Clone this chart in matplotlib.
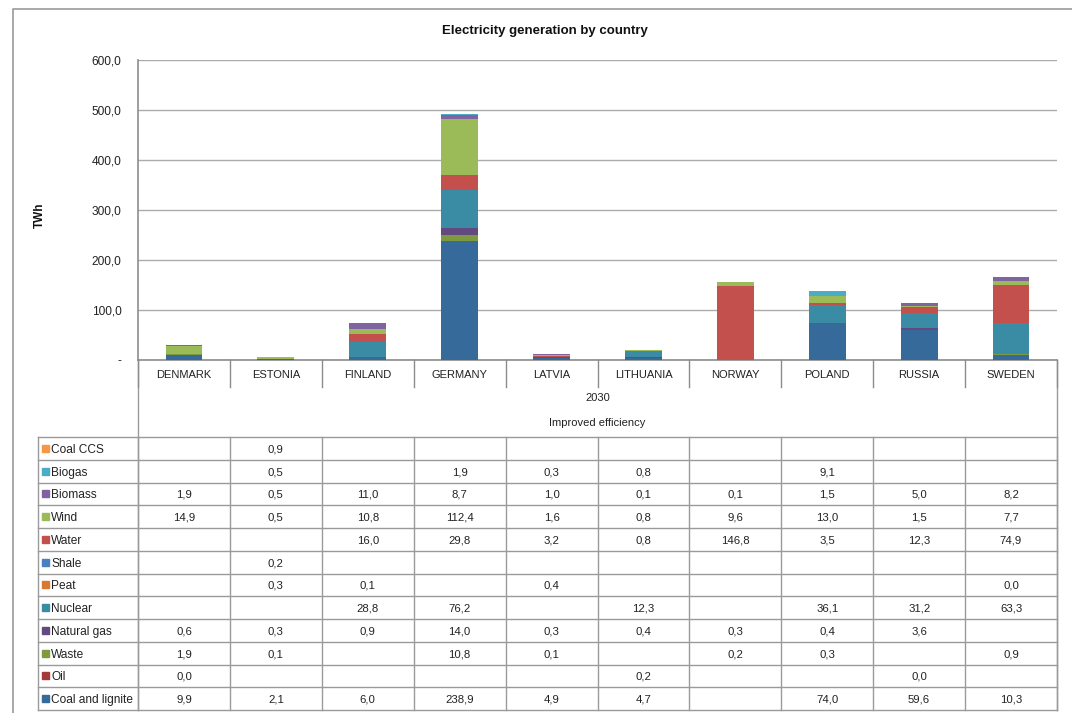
import numpy as np
import matplotlib
matplotlib.use('Agg')
import matplotlib.pyplot as plt
from matplotlib.patches import Rectangle
import matplotlib.transforms as mtransforms

plt.rcParams['font.family'] = ['Liberation Sans', 'DejaVu Sans']

countries = ['DENMARK', 'ESTONIA', 'FINLAND', 'GERMANY', 'LATVIA',
             'LITHUANIA', 'NORWAY', 'POLAND', 'RUSSIA', 'SWEDEN']

# table order (top row first); bars are stacked in the reverse order
sources = ['Coal CCS', 'Biogas', 'Biomass', 'Wind', 'Water', 'Shale', 'Peat',
           'Nuclear', 'Natural gas', 'Waste', 'Oil', 'Coal and lignite']

coal_ccs = [None, 0.9, None, None, None, None, None, None, None, None]
biogas = [None, 0.5, None, 1.9, 0.3, 0.8, None, 9.1, None, None]
biomass = [1.9, 0.5, 11.0, 8.7, 1.0, 0.1, 0.1, 1.5, 5.0, 8.2]
wind = [14.9, 0.5, 10.8, 112.4, 1.6, 0.8, 9.6, 13.0, 1.5, 7.7]
water = [None, None, 16.0, 29.8, 3.2, 0.8, 146.8, 3.5, 12.3, 74.9]
shale = [None, 0.2, None, None, None, None, None, None, None, None]
peat = [None, 0.3, 0.1, None, 0.4, None, None, None, None, 0.0]
nuclear = [None, None, 28.8, 76.2, None, 12.3, None, 36.1, 31.2, 63.3]
natural_gas = [0.6, 0.3, 0.9, 14.0, 0.3, 0.4, 0.3, 0.4, 3.6, None]
waste = [1.9, 0.1, None, 10.8, 0.1, None, 0.2, 0.3, None, 0.9]
oil = [0.0, None, None, None, None, 0.2, None, None, 0.0, None]
coal_lignite = [9.9, 2.1, 6.0, 238.9, 4.9, 4.7, None, 74.0, 59.6, 10.3]

series = [coal_ccs, biogas, biomass, wind, water, shale, peat,
          nuclear, natural_gas, waste, oil, coal_lignite]
colors = ['#F79646', '#4BACC6', '#8064A2', '#9BBB59', '#C4504D', '#4A7FC1',
          '#D9782F', '#3A8CA4', '#62497F', '#7E9A3F', '#A23B3A', '#366A9B']

yticks = [0, 100, 200, 300, 400, 500, 600]

W, H = 1072, 713
fig = plt.figure(figsize=(W / 100, H / 100), dpi=100)

L, R, T, B = 138, 1057, 60, 360
ax = fig.add_axes([L / W, 1 - B / H, (R - L) / W, (B - T) / H])

x = np.arange(len(countries))
bottom = np.zeros(len(countries))
for name, vals, c in reversed(list(zip(sources, series, colors))):
    v = np.array([0.0 if a is None else a for a in vals])
    ax.bar(x, v, 0.4, bottom=bottom, color=c, linewidth=0, zorder=3)
    bottom += v

ax.set_xlim(-0.5, len(countries) - 0.5)
ax.set_ylim(0, 600)
ax.set_yticks(yticks)
ax.set_yticklabels(['-' if t == 0 else f'{t:.1f}'.replace('.', ',') for t in yticks])
ax.set_xticks(x)
ax.set_xticklabels(countries)
ax.tick_params(axis='y', length=0, pad=12, labelsize=8.6, colors='#222222')
ax.tick_params(axis='x', length=0, pad=7, labelsize=8, colors='#222222')
ax.grid(axis='y', color='#ABABAB', linewidth=1, zorder=0)
for s in ['top', 'right']:
    ax.spines[s].set_visible(False)
for s in ['left', 'bottom']:
    ax.spines[s].set_color('#8C8C8C')
    ax.spines[s].set_linewidth(1.2)

# dividers below the category axis
trans = mtransforms.blended_transform_factory(ax.transData, ax.transAxes)
for k in range(len(countries) + 1):
    ax.plot([k - 0.5, k - 0.5], [0, -27 / (B - T)], color='#8C8C8C', lw=1,
            transform=trans, clip_on=False)

# overlay in pixel coordinates for frame, titles and data table
ov = fig.add_axes([0, 0, 1, 1], zorder=-1)
ov.set_xlim(0, W)
ov.set_ylim(H, 0)
ov.axis('off')

gray = '#9A9A9A'
ov.plot([13, 13, W], [H, 9, 9], color=gray, lw=1.2)
ov.text(545, 31, 'Electricity generation by country', ha='center', va='center',
        fontsize=9.5, fontweight='bold', color='#111111')
ov.text(40, 215, 'TWh', ha='center', va='center', rotation=90,
        fontsize=8.5, fontweight='bold', color='#111111')

ov.plot([L, L], [B, 710], color=gray, lw=1)
ov.plot([R, R], [B, 710], color=gray, lw=1)
ov.text((L + R) / 2, 398, '2030', ha='center', va='center', fontsize=8, color='#222222')
ov.text((L + R) / 2, 423, 'Improved efficiency', ha='center', va='center',
        fontsize=8, color='#222222')

tl, tt, tb = 38, 437, 710
rh = (tb - tt) / len(sources)
cw = (R - L) / len(countries)
for i in range(len(sources) + 1):
    ov.plot([tl, R], [tt + i * rh, tt + i * rh], color=gray, lw=1)
ov.plot([tl, tl], [tt, tb], color=gray, lw=1)
for k in range(len(countries) + 1):
    ov.plot([L + k * cw, L + k * cw], [tt, tb], color=gray, lw=1)

for i, (name, vals, c) in enumerate(zip(sources, series, colors)):
    yc = tt + (i + 0.5) * rh
    ov.add_patch(Rectangle((42, yc - 3.5), 7, 7, color=c))
    ov.text(51, yc, name, ha='left', va='center_baseline', fontsize=8.6, color='#222222')
    for k, v in enumerate(vals):
        if v is not None:
            ov.text(L + (k + 0.5) * cw, yc, f'{v:.1f}'.replace('.', ','),
                    ha='center', va='center_baseline', fontsize=8.2, color='#222222')

fig.savefig('out.png', dpi=100)
